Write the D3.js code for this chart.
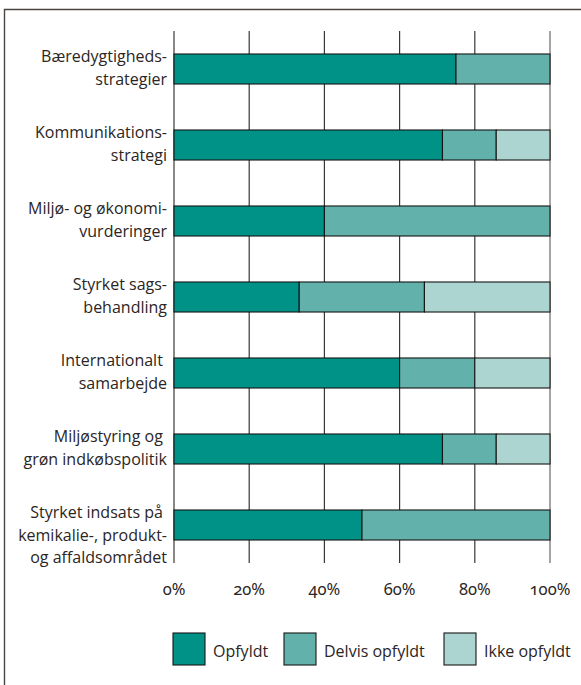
<!DOCTYPE html>
<html><head><meta charset="utf-8">
<script src="https://cdn.jsdelivr.net/npm/d3@7"></script>
<style>
html,body{margin:0;padding:0;background:#fff;}
svg{display:block;font-family:"Open Sans","Noto Sans",sans-serif;}
</style></head>
<body><svg id="c" width="581" height="685"></svg>
<script>
const categories = [
  ["Bæredygtigheds-","strategier"],
  ["Kommunikations-","strategi"],
  ["Miljø- og økonomi-","vurderinger"],
  ["Styrket sags-","behandling"],
  ["Internationalt ","samarbejde"],
  ["Miljøstyring og ","grøn indkøbspolitik"],
  ["Styrket indsats på ","kemikalie-, produkt-","og affaldsområdet"]
];
const opfyldt       = [75, 71.4, 40, 33.3, 60, 71.4, 50];
const delvisOpfyldt = [25, 14.3, 60, 33.3, 20, 14.3, 50];
const ikkeOpfyldt   = [0, 14.3, 0, 33.4, 20, 14.3, 0];
const seriesNames = ["Opfyldt","Delvis opfyldt","Ikke opfyldt"];
const tickValues = [0,20,40,60,80,100];
const colors = ["#009187","#62b1aa","#acd5d1"];

const svg = d3.select("#c");
// frame
svg.append("path").attr("d","M4.5,685 V9.5 H581").attr("fill","none")
  .attr("stroke","#4a4541").attr("stroke-width",1.4);

const x = d3.scaleLinear().domain([0,100]).range([174,550]);
const y = d3.scaleBand().domain(d3.range(categories.length)).range([31,563]).paddingInner(0.605).paddingOuter(0.3025);

// gridlines
svg.append("g").selectAll("line").data(tickValues).join("line")
  .attr("x1",d=>x(d)).attr("x2",d=>x(d)).attr("y1",31).attr("y2",563)
  .attr("stroke",(d,i)=>i===tickValues.length-1?"#6d6662":"#3d3733").attr("stroke-width",1.2);

// tick labels
svg.append("g").selectAll("text").data(tickValues).join("text")
  .attr("x",d=>x(d)).attr("y",595).attr("text-anchor","middle")
  .style("font-family","'Noto Sans','Open Sans',sans-serif")
  .style("font-size","16.5px").style("font-variant-numeric","oldstyle-nums")
  .style("font-feature-settings","'onum' 1")
  .attr("fill","#2b2523").text(d=>d+"%");

const rows = categories.map((c,i)=>({i, vals:[opfyldt[i],delvisOpfyldt[i],ikkeOpfyldt[i]]}));
const stacked = d3.stack().keys([0,1,2]).value((d,k)=>d.vals[k])(rows);

svg.append("g").selectAll("g").data(stacked).join("g")
  .attr("fill",(d,i)=>colors[i])
  .selectAll("rect").data(d=>d.filter(p=>p[1]-p[0]>0)).join("rect")
  .attr("x",d=>x(d[0])).attr("width",d=>x(d[1])-x(d[0]))
  .attr("y",d=>y(d.data.i)).attr("height",y.bandwidth())
  .attr("stroke","#161616").attr("stroke-width",1.1);

// category labels
const lab = svg.append("g").selectAll("text").data(categories).join("text")
  .attr("text-anchor","end").style("font-size","16px").attr("fill","#2b2523")
  .style("white-space","pre")
  .attr("y",(d,i)=>y(i)+y.bandwidth()/2-7);
lab.selectAll("tspan").data(d=>d).join("tspan")
  .attr("x",167).attr("dy",(d,j)=>j===0?0:22.5).text(d=>d);

// legend
const legX = [173,284,444];
const lg = svg.append("g").selectAll("g").data(seriesNames).join("g");
lg.append("rect").attr("x",(d,i)=>legX[i]).attr("y",633).attr("width",32).attr("height",32)
  .attr("fill",(d,i)=>colors[i]).attr("stroke","#161616").attr("stroke-width",1.1);
lg.append("text").attr("x",(d,i)=>legX[i]+40).attr("y",657)
  .style("font-size","16px").attr("fill","#2b2523").text(d=>d);
</script></body></html>
